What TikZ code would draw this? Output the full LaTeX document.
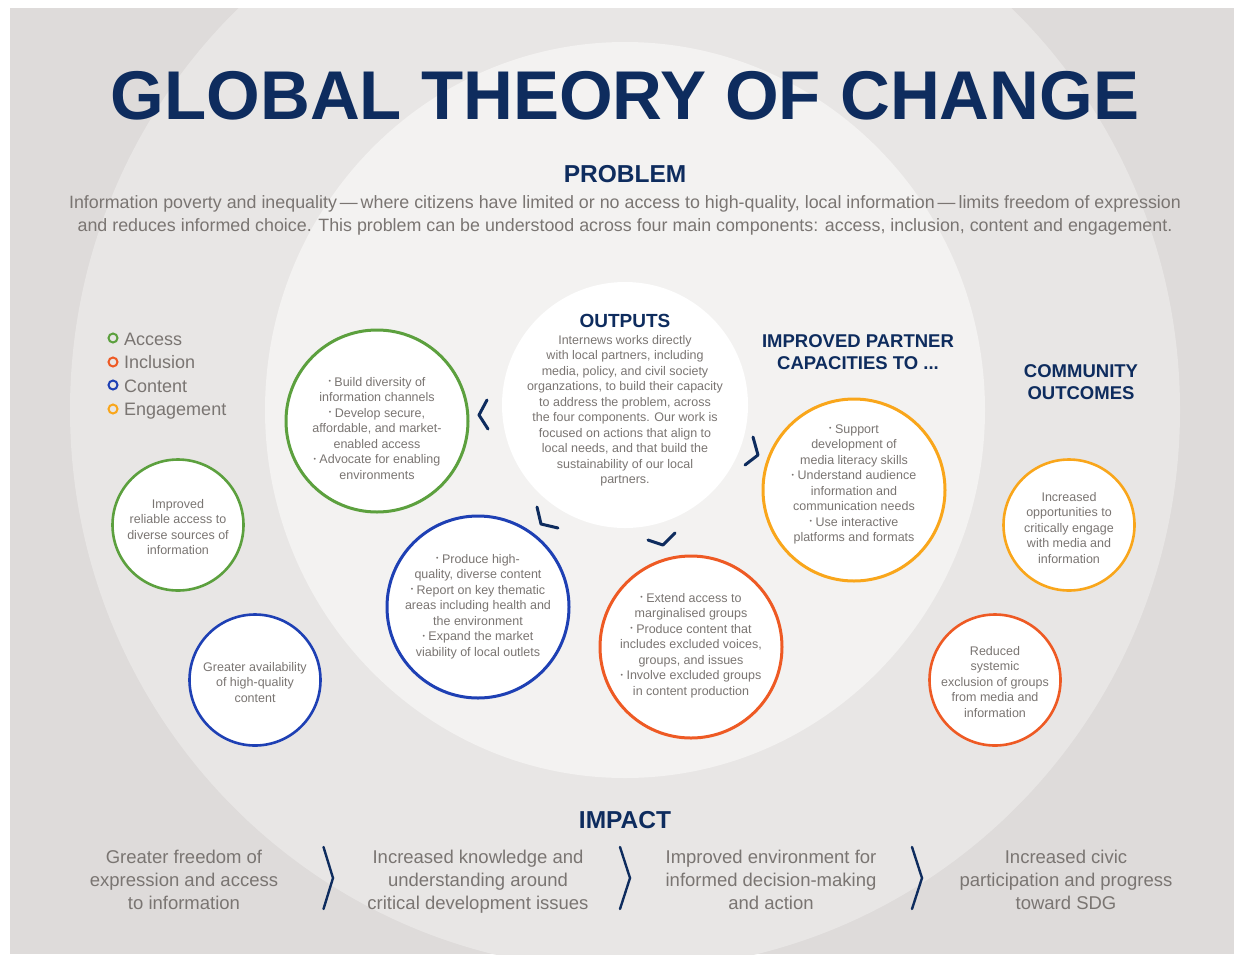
\documentclass[tikz,border=0pt]{standalone}
\usepackage{fontspec}
\setmainfont{Liberation Sans}
\usetikzlibrary{calc}
\definecolor{navy}{RGB}{14,44,94}
\definecolor{bgA}{RGB}{222,219,218}
\definecolor{bgB}{RGB}{232,230,229}
\definecolor{bgC}{RGB}{243,242,241}
\definecolor{txtgray}{RGB}{122,117,114}
\definecolor{cgreen}{RGB}{92,160,62}
\definecolor{cred}{RGB}{238,90,36}
\definecolor{cblue}{RGB}{30,64,180}
\definecolor{corange}{RGB}{249,166,27}
\newcommand{\bu}{\raisebox{0.2em}{\scalebox{0.55}{\textbullet}}\ }
\tikzset{
  bigc/.style={circle, draw, line width=3pt, fill=white, minimum size=182pt, inner sep=0pt},
  smallc/.style={circle, draw, line width=2.6pt, fill=white, minimum size=131pt, inner sep=0pt},
  ctext/.style={align=center, text=txtgray, font=\fontsize{12.5}{15.5}\selectfont, anchor=base, inner sep=0pt},
  head/.style={align=center, text=navy, font=\bfseries\fontsize{18.5}{22}\selectfont, anchor=base, inner sep=0pt},
  bodytext/.style={align=center, text=txtgray, font=\fontsize{18.5}{23}\selectfont, anchor=base, inner sep=0pt},
  legc/.style={circle, draw, line width=2pt, minimum size=9pt, inner sep=0pt},
  legt/.style={text=txtgray, font=\fontsize{18}{22}\selectfont, anchor=base west, inner sep=0pt},
  chev/.style={draw=navy, line width=3pt, line cap=round, line join=round},
  ichev/.style={draw=navy, line width=2.4pt, line cap=round, line join=miter},
}
\begin{document}
\begin{tikzpicture}[x=1pt,y=-1pt]
\useasboundingbox (0,0) rectangle (1234,954);
\fill[white] (0,0) rectangle (1234,954);
\begin{scope}
\clip (10,8) rectangle (1234,954);
\fill[bgA] (10,8) rectangle (1234,954);
\fill[bgB] (625,410) ellipse [x radius=555pt, y radius=560pt];
\fill[bgC] (625,410) ellipse [x radius=360pt, y radius=368pt];
\end{scope}

% title and problem (multi-line nodes: base = baseline of last line)
\node[anchor=base, inner sep=0pt, text=navy, font=\bfseries\fontsize{69}{72}\selectfont] (title) at (625,119) {GLOBAL THEORY OF CHANGE};
\node[head, font=\bfseries\fontsize{24.5}{28}\selectfont] (prob) at (625,182) {PROBLEM};
\node[bodytext, font=\fontsize{17.85}{23}\selectfont] (probt) at (625,231) {Information poverty and inequality\,—\,where citizens have limited or no access to high-quality, local information\,—\,limits freedom of expression\\and reduces informed choice. This problem can be understood across four main components: access, inclusion, content and engagement.};

% legend
\node[legc, draw=cgreen] (l1) at (113,338) {};
\node[legc, draw=cred] (l2) at (113,362) {};
\node[legc, draw=cblue] (l3) at (113,385) {};
\node[legc, draw=corange] (l4) at (113,409) {};
\node[legt] (l1t) at (124,345) {Access};
\node[legt] (l2t) at (124,368.5) {Inclusion};
\node[legt] (l3t) at (124,392) {Content};
\node[legt] (l4t) at (124,415.5) {Engagement};

% outputs circle
\node[circle, fill=white, minimum size=246pt, inner sep=0pt] (out) at (625,405) {};
\node[head, font=\bfseries\fontsize{19}{22}\selectfont] (outh) at (625,327) {OUTPUTS};
\node[ctext] (outt) at (625,483.5) {Internews works directly\\with local partners, including\\media, policy, and civil society\\organzations, to build their capacity\\to address the problem, across\\the four components. Our work is\\focused on actions that align to\\local needs, and that build the\\sustainability of our local\\partners.};

% headers
\node[head] (iph) at (858,369) {IMPROVED PARTNER\\CAPACITIES TO ...};
\node[head] (coh) at (1081,399) {COMMUNITY\\OUTCOMES};

% big circles
\node[bigc, draw=cgreen] (ga) at (377,421) {};
\node[bigc, draw=cblue] (gb) at (478,607) {};
\node[bigc, draw=cred] (gc) at (691,647) {};
\node[bigc, draw=corange] (gd) at (854,490) {};
\node[ctext] (gat) at (377,479) {\bu Build diversity of\\information channels\\\bu Develop secure,\\affordable, and market-\\enabled access\\\bu Advocate for enabling\\environments};
\node[ctext] (gbt) at (478,656) {\bu Produce high-\\quality, diverse content\\\bu Report on key thematic\\areas including health and\\the environment\\\bu Expand the market\\viability of local outlets};
\node[ctext] (gct) at (691,695) {\bu Extend access to\\marginalised groups\\\bu Produce content that\\includes excluded voices,\\groups, and issues\\\bu Involve excluded groups\\in content production};
\node[ctext] (gdt) at (854,541.5) {\bu Support\\development of\\media literacy skills\\\bu Understand audience\\information and\\communication needs\\\bu Use interactive\\platforms and formats};

% small circles
\node[smallc, draw=cgreen] (sa) at (178,525) {};
\node[smallc, draw=cblue] (sb) at (255,680) {};
\node[smallc, draw=corange] (sc) at (1069,525) {};
\node[smallc, draw=cred] (sd) at (995,680) {};
\node[ctext] (sat) at (178,554.5) {Improved\\reliable access to\\diverse sources of\\information};
\node[ctext] (sbt) at (255,702) {Greater availability\\of high-quality\\content};
\node[ctext] (sct) at (1069,563) {Increased\\opportunities to\\critically engage\\with media and\\information};
\node[ctext] (sdt) at (995,717) {Reduced\\systemic\\exclusion of groups\\from media and\\information};

% chevrons around outputs
\draw[chev] (487,400) -- (479,415) -- (488,429);
\draw[chev] (753,437) -- (758,455) -- (745,465);
\draw[chev] (537,507) -- (541,524) -- (558,528);
\draw[chev] (648,540) -- (663,545) -- (675,533);

% impact
\node[head, font=\bfseries\fontsize{24.5}{28}\selectfont] (imp) at (625,828) {IMPACT};
\node[bodytext] (i1) at (184,909) {Greater freedom of\\expression and access\\to information};
\node[bodytext] (i2) at (478,909) {Increased knowledge and\\understanding around\\critical development issues};
\node[bodytext] (i3) at (771,909) {Improved environment for\\informed decision-making\\and action};
\node[bodytext] (i4) at (1066,909) {Increased civic\\participation and progress\\toward SDG};
\draw[ichev] (323.5,847) -- (333,878) -- (323.5,909);
\draw[ichev] (620,847) -- (630,878) -- (620,909);
\draw[ichev] (912,847) -- (922,878) -- (912,909);
\end{tikzpicture}
\end{document}
